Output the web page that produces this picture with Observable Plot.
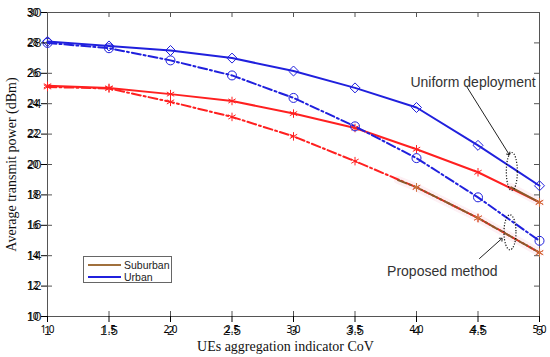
<!DOCTYPE html>
<html>
<head>
<meta charset="utf-8">
<script src="https://cdn.jsdelivr.net/npm/d3@7"></script>
<script src="https://cdn.jsdelivr.net/npm/@observablehq/plot@0.6"></script>
<style>
  html, body { margin: 0; padding: 0; background: #fff; }
  #wrap { position: relative; width: 550px; height: 357px; }
  #wrap > svg { position: absolute; left: 0; top: 0; }
  #legend { position: absolute; left: 83px; top: 256px; width: 89px; height: 27px;
    border: 1px solid #666; background: #fff; font-family: "Liberation Sans", Arial, sans-serif;
    font-size: 10.5px; color: #222; box-sizing: border-box; }
  #legend .row { position: absolute; left: 4px; height: 12px; display: flex; align-items: center; }
  #legend .sw { width: 33px; height: 0; border-top: 2px solid; margin-right: 3px; }
</style>
</head>
<body>
<div id="wrap"></div>
<script>
// ---- data ----
const cov = [1, 1.5, 2, 2.5, 3, 3.5, 4, 4.5, 5];
const urbanUniform     = [28.1, 27.8, 27.5, 27.0, 26.15, 25.04, 23.75, 21.26, 18.6];
const urbanProposed    = [28.0, 27.65, 26.85, 25.86, 24.38, 22.51, 20.42, 17.84, 14.98];
const suburbanUniform  = [25.18, 25.04, 24.63, 24.18, 23.35, 22.4, 21.0, 19.49, 17.51];
const suburbanProposed = [25.1, 25.0, 24.12, 23.13, 21.85, 20.22, 18.5, 16.48, 14.2];
// brown (Suburban legend colour) overlay portions as seen in the figure
const brownUniformX  = [4.77, 5];
const brownUniformY  = [18.5, 17.51];
const brownProposedX = [3.85, 4, 4.5, 5];
const brownProposedY = [18.98, 18.5, 16.48, 14.2];
const xTicks = [1, 1.5, 2, 2.5, 3, 3.5, 4, 4.5, 5];
const yTicks = [10, 12, 14, 16, 18, 20, 22, 24, 26, 28, 30];
const legendLabels = ["Suburban", "Urban"];
// annotations (data coordinates)
const annoTexts = ["Uniform deployment", "Proposed method"];
const annoTextX = [4.46, 4.21];
const annoTextY = [25.4, 12.95];
const arrowX1 = [4.41, 4.51], arrowY1 = [25.1, 13.8];
const arrowX2 = [4.75, 4.69], arrowY2 = [20.7, 15.1];
const ellX = [4.775, 4.76], ellY = [19.54, 15.54];

const BLUE = "#2020dd", RED = "#ff2020", BROWN = "#8b5a2b";
const toRows = (xs, ys) => xs.map((x, i) => ({x, y: ys[i]}));
const uu = toRows(cov, urbanUniform);
const up = toRows(cov, urbanProposed);
const su = toRows(cov, suburbanUniform);
const sp = toRows(cov, suburbanProposed);
const bu = toRows(brownUniformX, brownUniformY);
const bp = toRows(brownProposedX, brownProposedY);
const brownMarks = [...su.filter(d => d.x >= 5), ...sp.filter(d => d.x >= 4)];

function ellipseSymbol(rx, ry) {
  const k = 0.5523;
  return { draw(ctx) {
    ctx.moveTo(rx, 0);
    ctx.bezierCurveTo(rx, ry * k, rx * k, ry, 0, ry);
    ctx.bezierCurveTo(-rx * k, ry, -rx, ry * k, -rx, 0);
    ctx.bezierCurveTo(-rx, -ry * k, -rx * k, -ry, 0, -ry);
    ctx.bezierCurveTo(rx * k, -ry, rx, -ry * k, rx, 0);
    ctx.closePath();
  }};
}
const ell = [
  {x: ellX[0], y: ellY[0], s: ellipseSymbol(5.5, 19)},
  {x: ellX[1], y: ellY[1], s: ellipseSymbol(6, 17.5)}
];
const annos = annoTexts.map((t, i) => ({t, x: annoTextX[i], y: annoTextY[i]}));
const arrows = arrowX1.map((_, i) => ({x1: arrowX1[i], y1: arrowY1[i], x2: arrowX2[i], y2: arrowY2[i]}));

const DASH = "9,3,2,3";
const sans = "Liberation Sans, Arial, sans-serif";
const serif = "Liberation Serif, Times New Roman, serif";
const layout = {
  width: 550, height: 357,
  marginLeft: 47, marginRight: 11, marginTop: 12, marginBottom: 41,
  x: {domain: [1, 5]},
  y: {domain: [10, 30]}
};

const chart = Plot.plot({
  ...layout,
  style: {background: "#fff"},
  marks: [
    // faint pink halo around brown parts
    Plot.line(bp, {x: "x", y: "y", stroke: "#fdf0f4", strokeWidth: 8}),
    Plot.line(bu, {x: "x", y: "y", stroke: "#fdf0f4", strokeWidth: 8}),
    Plot.frame({stroke: "#555", strokeWidth: 1}),
    Plot.tickX(xTicks, {x: d => d, insetTop: 299, stroke: "#555"}),
    Plot.tickX(xTicks, {x: d => d, insetBottom: 299, stroke: "#555"}),
    Plot.tickY(yTicks, {y: d => d, insetRight: 487, stroke: "#555"}),
    Plot.tickY(yTicks, {y: d => d, insetLeft: 487, stroke: "#555"}),
    Plot.axisX(xTicks, {tickSize: 0, tickPadding: 9, fontSize: 13, fontFamily: sans, fill: "#222", label: null, tickFormat: d => String(d)}),
    Plot.axisY(yTicks, {tickSize: 0, tickPadding: 6, fontSize: 13, fontFamily: sans, fill: "#222", label: null, tickFormat: d => String(d)}),
    Plot.text(["UEs aggregation indicator CoV"], {frameAnchor: "bottom", dy: 34, dx: -8, fontFamily: serif, fontSize: 14, fill: "#111"}),
    Plot.text(["Average transmit power (dBm)"], {frameAnchor: "left", textAnchor: "middle", dx: -36, rotate: -90, fontFamily: serif, fontSize: 14, fill: "#111"}),
    // lines
    Plot.line(su, {x: "x", y: "y", stroke: RED, strokeWidth: 2}),
    Plot.line(sp, {x: "x", y: "y", stroke: RED, strokeWidth: 2, strokeDasharray: DASH}),
    Plot.line(bu, {x: "x", y: "y", stroke: BROWN, strokeWidth: 2}),
    Plot.line(bp, {x: "x", y: "y", stroke: BROWN, strokeWidth: 2, strokeDasharray: DASH}),
    Plot.line(up, {x: "x", y: "y", stroke: BLUE, strokeWidth: 2, strokeDasharray: DASH}),
    Plot.line(uu, {x: "x", y: "y", stroke: BLUE, strokeWidth: 2}),
    // markers
    Plot.dot(su, {x: "x", y: "y", symbol: "asterisk", r: 4, stroke: RED, strokeWidth: 1}),
    Plot.dot(sp, {x: "x", y: "y", symbol: "asterisk", r: 4, stroke: RED, strokeWidth: 1}),
    Plot.dot(brownMarks, {x: "x", y: "y", symbol: "asterisk", r: 4, stroke: "#c8783c", strokeWidth: 1}),
    Plot.dot(up, {x: "x", y: "y", symbol: "circle", r: 4.5, stroke: BLUE, fill: "none", strokeWidth: 1}),
    Plot.dot(uu, {x: "x", y: "y", symbol: "diamond2", r: 4.5, stroke: BLUE, fill: "none", strokeWidth: 1}),
    // annotations
    Plot.dot(ell, {x: "x", y: "y", symbol: "s", stroke: "#111", fill: "none", strokeWidth: 1.2, strokeDasharray: "1.2,1.6"}),
    Plot.text(annos, {x: "x", y: "y", text: "t", fontFamily: sans, fontSize: 14, fill: "#333"})
  ]
});

// arrows drawn in a transparent overlay plot sharing the same scales/layout
const arrowLayer = Plot.plot({
  ...layout,
  style: {background: "transparent"},
  marks: [
    Plot.link(arrows, {x1: "x1", y1: "y1", x2: "x2", y2: "y2", stroke: "#222", strokeWidth: 1, markerEnd: "arrow"})
  ]
});

const wrap = document.getElementById("wrap");
wrap.appendChild(chart);
arrowLayer.style.pointerEvents = "none";
wrap.appendChild(arrowLayer);

// legend overlay
const colors = ["#a0703c", BLUE];
const leg = document.createElement("div");
leg.id = "legend";
legendLabels.forEach((lab, i) => {
  const row = document.createElement("div");
  row.className = "row";
  row.style.top = (2 + i * 12) + "px";
  const sw = document.createElement("span");
  sw.className = "sw";
  sw.style.borderTopColor = colors[i];
  row.appendChild(sw);
  row.appendChild(document.createTextNode(lab));
  leg.appendChild(row);
});
wrap.appendChild(leg);
</script>
</body>
</html>
